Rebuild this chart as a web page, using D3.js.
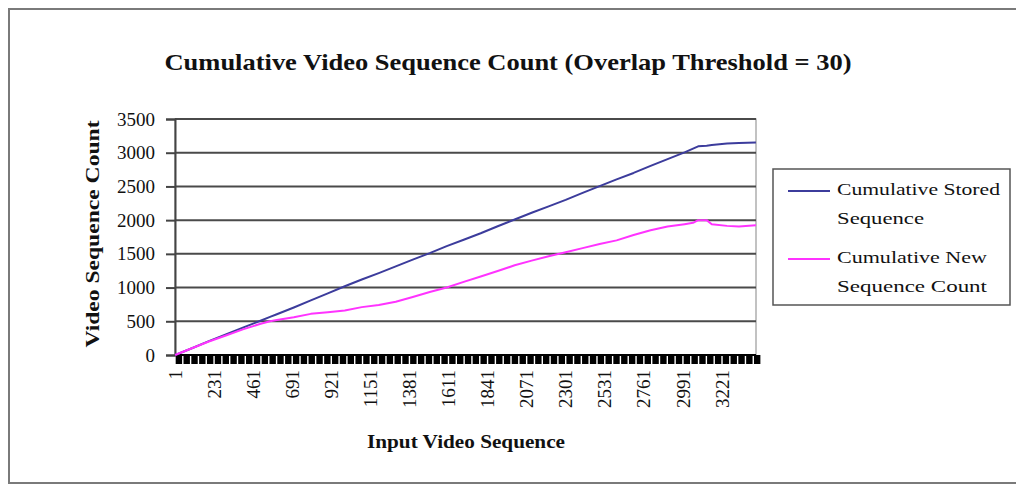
<!DOCTYPE html>
<html>
<head>
<meta charset="utf-8">
<script src="https://cdn.jsdelivr.net/npm/d3@7"></script>
<style>
  html, body { margin: 0; padding: 0; background: #fff; }
  svg { display: block; }
  text { font-family: "Liberation Serif", "Times New Roman", serif; fill: #111; }
</style>
</head>
<body>
<svg id="chart" width="1016" height="485"></svg>
<script>
// ---------- data ----------
const chartTitle = "Cumulative Video Sequence Count (Overlap Threshold = 30)";
const xTitle = "Input Video Sequence";
const yTitle = "Video Sequence Count";
const seriesNames = ["Cumulative Stored Sequence", "Cumulative New Sequence Count"];
const categoryCount = 3420;
const xTickLabels = [1, 231, 461, 691, 921, 1151, 1381, 1611, 1841, 2071, 2301, 2531, 2761, 2991, 3221];
const yTicks = [0, 500, 1000, 1500, 2000, 2500, 3000, 3500];

const sampleIndex = [1, 100, 200, 300, 400, 500, 560, 600, 700, 800, 900, 1000, 1100, 1200, 1300, 1400, 1500,
  1600, 1700, 1800, 1900, 2000, 2100, 2200, 2300, 2400, 2500, 2600, 2700, 2800, 2900, 3000, 3050, 3080,
  3130, 3160, 3250, 3320, 3420];
const storedValues = [0, 100, 205, 305, 405, 505, 565, 605, 705, 810, 915, 1020, 1120, 1215, 1315, 1415, 1510,
  1615, 1710, 1805, 1910, 2010, 2110, 2205, 2300, 2405, 2505, 2605, 2700, 2805, 2905, 3005, 3060, 3095,
  3105, 3115, 3135, 3145, 3150];
const newValues = [0, 100, 200, 290, 380, 460, 500, 520, 560, 610, 635, 660, 710, 740, 790, 860, 935,
  1000, 1085, 1165, 1245, 1330, 1400, 1465, 1525, 1585, 1645, 1700, 1780, 1850, 1905, 1940, 1960, 2000,
  2000, 1940, 1915, 1905, 1925];

// ---------- layout ----------
const svg = d3.select("#chart");
const plot = { left: 175, right: 756, top: 119, bottom: 355 };

const x = d3.scaleLinear().domain([0.5, categoryCount + 0.5]).range([plot.left, plot.right]);
const y = d3.scaleLinear().domain([0, 3500]).range([plot.bottom, plot.top]);

// outer frame
svg.append("rect").attr("x", 9).attr("y", 9).attr("width", 1020).attr("height", 474)
  .attr("fill", "none").attr("stroke", "#7a7a7a").attr("stroke-width", 2);

// title
svg.append("text").attr("x", 508).attr("y", 70).attr("text-anchor", "middle")
  .attr("font-size", 23).attr("font-weight", "bold")
  .attr("textLength", 687).attr("lengthAdjust", "spacingAndGlyphs")
  .text(chartTitle);

// plot border
svg.append("rect").attr("x", plot.left).attr("y", plot.top)
  .attr("width", plot.right - plot.left).attr("height", plot.bottom - plot.top)
  .attr("fill", "none").attr("stroke", "#9a9a9a").attr("stroke-width", 1.2);

// gridlines
svg.append("g").selectAll("line").data(yTicks.filter(d => d > 0)).join("line")
  .attr("x1", plot.left).attr("x2", plot.right)
  .attr("y1", d => y(d)).attr("y2", d => y(d))
  .attr("stroke", "#4a4a4a").attr("stroke-width", 2);

// y axis
const yAxis = d3.axisLeft(y).tickValues(yTicks).tickSize(9).tickPadding(11).tickFormat(d3.format("d"));
const gy = svg.append("g").attr("transform", `translate(${plot.left},0)`).call(yAxis);
gy.select(".domain").attr("stroke", "#444").attr("stroke-width", 2);
gy.selectAll(".tick line").attr("stroke", "#444").attr("stroke-width", 2);
gy.selectAll(".tick text").attr("font-size", 19).attr("font-family", "Liberation Serif, serif").attr("fill", "#222");

// x axis tick band (tick marks every 46 categories)
const tickCats = d3.range(1, categoryCount + 1, 46);
const step = x(47) - x(1);
svg.append("g").selectAll("rect").data(tickCats).join("rect")
  .attr("x", d => x(d) + 0.6)
  .attr("y", plot.bottom)
  .attr("width", step - 1.4)
  .attr("height", 9)
  .attr("fill", "#000");
svg.append("line").attr("x1", plot.left).attr("x2", plot.right)
  .attr("y1", plot.bottom).attr("y2", plot.bottom).attr("stroke", "#000").attr("stroke-width", 2);

// x tick labels
svg.append("g").selectAll("text").data(xTickLabels).join("text")
  .attr("transform", d => `translate(${x(d)},${plot.bottom + 15}) rotate(-90)`)
  .attr("text-anchor", "end").attr("dominant-baseline", "central")
  .attr("font-size", 19).attr("fill", "#222")
  .text(d => d);

// axis titles
svg.append("text").attr("x", 466).attr("y", 448).attr("text-anchor", "middle")
  .attr("font-size", 18).attr("font-weight", "bold")
  .attr("textLength", 198).attr("lengthAdjust", "spacingAndGlyphs")
  .text(xTitle);
svg.append("text").attr("transform", "translate(99,234) rotate(-90)").attr("text-anchor", "middle")
  .attr("font-size", 18).attr("font-weight", "bold")
  .attr("textLength", 227).attr("lengthAdjust", "spacingAndGlyphs")
  .text(yTitle);

// lines
const colors = ["#3c3c9c", "#ff33ff"];
const series = [storedValues, newValues];
const line = d3.line().x(d => x(d[0])).y(d => y(d[1]));
series.forEach((vals, i) => {
  const pts = sampleIndex.map((c, k) => [c, vals[k]]);
  svg.append("path").datum(pts).attr("d", line)
    .attr("fill", "none").attr("stroke", colors[i]).attr("stroke-width", 2)
    .attr("stroke-linejoin", "round");
});

// legend
const lg = svg.append("g");
lg.append("rect").attr("x", 773).attr("y", 169).attr("width", 237).attr("height", 136)
  .attr("fill", "#fff").attr("stroke", "#555").attr("stroke-width", 1.5);
const legendRows = [
  { lines: ["Cumulative Stored", "Sequence"], widths: [163, 87], y: 189 },
  { lines: ["Cumulative New", "Sequence Count"], widths: [150, 150], y: 257 }
];
legendRows.forEach((r, i) => {
  lg.append("line").attr("x1", 788).attr("x2", 830).attr("y1", r.y + 2).attr("y2", r.y + 2)
    .attr("stroke", colors[i]).attr("stroke-width", 2);
  r.lines.forEach((t, j) => {
    lg.append("text").attr("x", 837).attr("y", r.y + j * 29).attr("dominant-baseline", "central")
      .attr("font-size", 17).attr("fill", "#222")
      .attr("textLength", r.widths[j]).attr("lengthAdjust", "spacingAndGlyphs")
      .text(t);
  });
});
</script>
</body>
</html>
